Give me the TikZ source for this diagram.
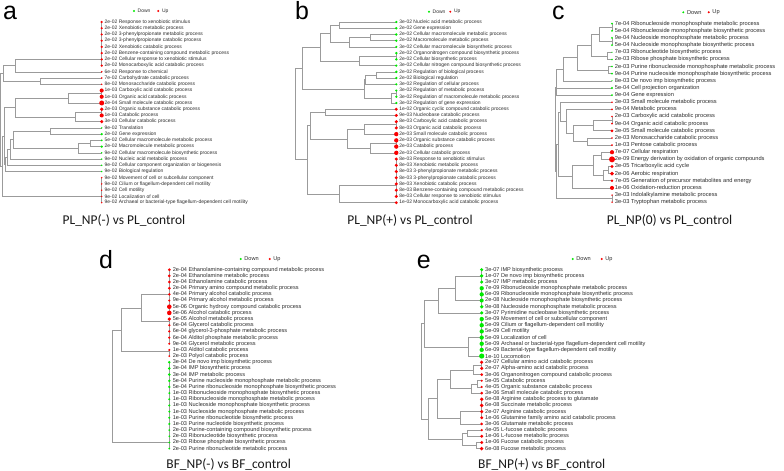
\documentclass[tikz,border=0pt]{standalone}
\usepackage{fontspec}
\setmainfont{Liberation Sans}
\newfontfamily\titlefont{Carlito}
\usetikzlibrary{calc}
\pgfdeclarelayer{bottom}
\pgfdeclarelayer{bg}
\pgfsetlayers{bottom,bg,main}
\definecolor{upred}{RGB}{250,0,0}
\definecolor{dngreen}{RGB}{0,235,0}
\definecolor{treegray}{RGB}{155,155,155}
\definecolor{lbltext}{RGB}{45,45,45}
\newcommand\panelset[7]{\def\pmx{#1}\def\pyo{#2}\def\pdy{#3}\def\ptx{#4}\def\pfs{#5}\def\pa{#6}\def\pb{#7}}
\newcommand\lblfont{\fontsize{\pfs}{\pfs}\selectfont}
\tikzset{
  lbl/.style={font=\lblfont, inner sep=0pt, anchor=west, text=lbltext},
  dot/.style={circle, inner sep=0pt, draw=none},
  treeln/.style={draw=treegray, line width=0.6bp},
  letterlbl/.style={font=\fontsize{25}{25}\selectfont, inner sep=0pt, anchor=base west},
  titlelbl/.style={font=\titlefont\fontsize{13.5}{13.5}\selectfont, inner sep=0pt, anchor=base, text=black!90},
}
% row: name, index, colour, mantissa, exponent, text
\newcommand\rw[6]{%
  \pgfmathsetmacro\rowy{\pyo+(#2-1)*\pdy}%
  \pgfmathsetmacro\dia{2*max(0.5,\pa+\pb*(#5-log10(#4)))}%
  \coordinate (#1) at (\pmx,\rowy);%
  \node[lbl] (#1t) at (\pmx+\ptx,\rowy) {#4e-\ifnum#5<10 0\fi#5 #6};%
  \node[dot, fill=#3, minimum size=\dia bp] (#1m) at (#1) {};%
}
% group of identical leaves: name, first, last, fraction
\newcommand\grp[4]{%
  \begin{pgfonlayer}{bg}\draw[treeln] (#2) -- (#3);\end{pgfonlayer}%
  \coordinate (#1) at ($(#2)!#4!(#3)$);%
}
% merge: name, child1, child2, x
\newcommand\mrg[4]{%
  \coordinate (#1X) at (#4,0);%
  \begin{pgfonlayer}{bg}\draw[treeln] (#2) -- (#2 -| #1X) -- (#3 -| #1X) -- (#3);\end{pgfonlayer}%
  \coordinate (#1) at ($(#2 -| #1X)!0.5!(#3 -| #1X)$);%
}
% legend: name, x of green dot, y, gap to red dot
\newcommand\lgd[4]{%
  \node[dot, fill=dngreen, minimum size=2.2bp] (#1g) at (#2,#3) {};%
  \node[lbl] (#1d) at (#2+3.5,#3) {Down};%
  \node[dot, fill=upred, minimum size=2.2bp] (#1r) at (#2+#4,#3) {};%
  \node[lbl] (#1u) at (#2+#4+3.5,#3) {Up};%
}
\begin{document}
\begin{tikzpicture}[x=1bp,y=-1bp]
\useasboundingbox (0,0) rectangle (784,471);
\begin{pgfonlayer}{bottom}
\fill[white] (0,0) rectangle (784,471);
\end{pgfonlayer}

%%%%%%%%%%%%%%%% panel a
\panelset{101.7}{22}{6.23}{2.8}{5}{0.13}{0.64}
\node[letterlbl] (La) at (3,20) {a};
\lgd{aL}{134}{11}{24.3}
\rw{a1}{1}{upred}{2}{2}{Response to xenobiotic stimulus}
\rw{a2}{2}{upred}{2}{2}{Xenobiotic metabolic process}
\rw{a3}{3}{upred}{2}{2}{3-phenylpropionate metabolic process}
\rw{a4}{4}{upred}{2}{2}{3-phenylpropionate catabolic process}
\rw{a5}{5}{upred}{2}{2}{Xenobiotic catabolic process}
\rw{a6}{6}{upred}{2}{2}{Benzene-containing compound metabolic process}
\rw{a7}{7}{upred}{2}{2}{Cellular response to xenobiotic stimulus}
\rw{a8}{8}{upred}{2}{2}{Monocarboxylic acid catabolic process}
\rw{a9}{9}{upred}{6}{2}{Response to chemical}
\rw{a10}{10}{upred}{7}{2}{Carbohydrate catabolic process}
\rw{a11}{11}{upred}{8}{2}{Monosaccharide catabolic process}
\rw{a12}{12}{upred}{1}{3}{Carboxylic acid catabolic process}
\rw{a13}{13}{upred}{1}{3}{Organic acid catabolic process}
\rw{a14}{14}{upred}{2}{4}{Small molecule catabolic process}
\rw{a15}{15}{upred}{2}{3}{Organic substance catabolic process}
\rw{a16}{16}{upred}{1}{3}{Catabolic process}
\rw{a17}{17}{upred}{3}{3}{Cellular catabolic process}
\rw{a18}{18}{dngreen}{9}{2}{Translation}
\rw{a19}{19}{dngreen}{2}{2}{Gene expression}
\rw{a20}{20}{dngreen}{5}{2}{Cellular macromolecule metabolic process}
\rw{a21}{21}{dngreen}{2}{2}{Macromolecule metabolic process}
\rw{a22}{22}{dngreen}{9}{2}{Cellular macromolecule biosynthetic process}
\rw{a23}{23}{dngreen}{9}{2}{Nucleic acid metabolic process}
\rw{a24}{24}{dngreen}{9}{2}{Cellular component organization or biogenesis}
\rw{a25}{25}{dngreen}{9}{2}{Biological regulation}
\rw{a26}{26}{upred}{9}{2}{Movement of cell or subcellular component}
\rw{a27}{27}{upred}{9}{2}{Cilium or flagellum-dependent cell motility}
\rw{a28}{28}{upred}{9}{2}{Cell motility}
\rw{a29}{29}{upred}{9}{2}{Localization of cell}
\rw{a30}{30}{upred}{9}{2}{Archaeal or bacterial-type flagellum-dependent cell motility}
\grp{aG1}{a1}{a8}{0.85}
\mrg{aA1}{aG1}{a9}{15}
\mrg{aA2}{a10}{a11}{40}
\mrg{aA3}{aA1}{aA2}{3.5}
\grp{aB0}{a12}{a13}{0.5}
\mrg{aB2}{aB0}{a14}{68}
\grp{aB3}{a15}{a16}{0.5}
\mrg{aB4}{aB3}{a17}{75}
\mrg{aB5}{aB2}{aB4}{15}
\mrg{aC1}{a18}{a19}{50}
\mrg{aC2}{a20}{a21}{90}
\mrg{aC3}{aC2}{a22}{78}
\mrg{aC4}{aC1}{aC3}{13}
\mrg{aC5}{aC4}{a23}{10}
\mrg{aC6}{aC5}{a24}{7}
\mrg{aC7}{aC6}{a25}{5}
\mrg{aY}{aB5}{aC7}{4}
\grp{aG3}{a26}{a30}{0.75}
\mrg{aX}{aY}{aG3}{2.5}
\mrg{aR}{aA3}{aX}{0.6}
\node[titlelbl] (Ta) at (124,224.5) {PL\_NP(-) vs PL\_control};

%%%%%%%%%%%%%%%% panel b
\panelset{396.3}{22}{6.23}{2.8}{5}{-0.05}{0.83}
\node[letterlbl] (Lb) at (295,20) {b};
\lgd{bL}{429}{11.7}{21.3}
\rw{b1}{1}{dngreen}{3}{2}{Nucleic acid metabolic process}
\rw{b2}{2}{dngreen}{2}{2}{Gene expression}
\rw{b3}{3}{dngreen}{2}{2}{Cellular macromolecule metabolic process}
\rw{b4}{4}{dngreen}{2}{2}{Macromolecule metabolic process}
\rw{b5}{5}{dngreen}{3}{2}{Cellular macromolecule biosynthetic process}
\rw{b6}{6}{dngreen}{2}{2}{Organonitrogen compound biosynthetic process}
\rw{b7}{7}{dngreen}{2}{2}{Cellular biosynthetic process}
\rw{b8}{8}{dngreen}{3}{2}{Cellular nitrogen compound biosynthetic process}
\rw{b9}{9}{dngreen}{2}{2}{Regulation of biological process}
\rw{b10}{10}{dngreen}{2}{2}{Biological regulation}
\rw{b11}{11}{dngreen}{3}{2}{Regulation of cellular process}
\rw{b12}{12}{dngreen}{3}{2}{Regulation of metabolic process}
\rw{b13}{13}{dngreen}{3}{2}{Regulation of macromolecule metabolic process}
\rw{b14}{14}{dngreen}{3}{2}{Regulation of gene expression}
\rw{b15}{15}{upred}{1}{2}{Organic cyclic compound catabolic process}
\rw{b16}{16}{upred}{9}{3}{Nucleobase catabolic process}
\rw{b17}{17}{upred}{8}{3}{Carboxylic acid catabolic process}
\rw{b18}{18}{upred}{8}{3}{Organic acid catabolic process}
\rw{b19}{19}{upred}{2}{3}{Small molecule catabolic process}
\rw{b20}{20}{upred}{2}{3}{Organic substance catabolic process}
\rw{b21}{21}{upred}{2}{3}{Catabolic process}
\rw{b22}{22}{upred}{2}{3}{Cellular catabolic process}
\rw{b23}{23}{upred}{8}{3}{Response to xenobiotic stimulus}
\rw{b24}{24}{upred}{8}{3}{Xenobiotic metabolic process}
\rw{b25}{25}{upred}{8}{3}{3-phenylpropionate metabolic process}
\rw{b26}{26}{upred}{8}{3}{3-phenylpropionate catabolic process}
\rw{b27}{27}{upred}{8}{3}{Xenobiotic catabolic process}
\rw{b28}{28}{upred}{8}{3}{Benzene-containing compound metabolic process}
\rw{b29}{29}{upred}{8}{3}{Cellular response to xenobiotic stimulus}
\rw{b30}{30}{upred}{1}{2}{Monocarboxylic acid catabolic process}
\mrg{bM1}{b1}{b2}{339}
\mrg{bM2}{b3}{b4}{370}
\mrg{bM3}{bM2}{b5}{349}
\mrg{bM4}{bM1}{bM3}{330}
\grp{bM5}{b6}{b7}{0.5}
\mrg{bM6}{bM5}{b8}{359}
\mrg{bM7}{bM4}{bM6}{320}
\mrg{bM8}{b9}{b10}{376}
\mrg{bM9}{bM8}{b11}{365}
\grp{bM10}{b12}{b13}{0.5}
\mrg{bM11}{bM10}{b14}{391}
\mrg{bM12}{bM9}{bM11}{364}
\mrg{bM13}{bM7}{bM12}{302}
\mrg{bR1}{b15}{b16}{325}
\grp{bR2}{b17}{b18}{0.5}
\mrg{bR3}{bR2}{b19}{364}
\grp{bR4}{b20}{b21}{0.5}
\mrg{bR5}{bR4}{b22}{370}
\mrg{bR6}{bR3}{bR5}{347}
\mrg{bR7}{bR1}{bR6}{310}
\grp{bR8a}{b23}{b29}{0.7}
\mrg{bR8}{bR8a}{b30}{339}
\mrg{bR9}{bR7}{bR8}{307}
\mrg{bRoot}{bM13}{bR9}{295}
\node[titlelbl] (Tb) at (410,224.5) {PL\_NP(+) vs PL\_control};

%%%%%%%%%%%%%%%% panel c
\panelset{612}{23.7}{7.14}{2.7}{5.7}{-0.09}{0.355}
\node[letterlbl] (Lc) at (552,20) {c};
\lgd{cL}{683.3}{12.3}{25.4}
\rw{c1}{1}{dngreen}{7}{4}{Ribonucleoside monophosphate metabolic process}
\rw{c2}{2}{dngreen}{5}{4}{Ribonucleoside monophosphate biosynthetic process}
\rw{c3}{3}{dngreen}{9}{4}{Nucleoside monophosphate metabolic process}
\rw{c4}{4}{dngreen}{5}{4}{Nucleoside monophosphate biosynthetic process}
\rw{c5}{5}{dngreen}{7}{3}{Ribonucleotide biosynthetic process}
\rw{c6}{6}{dngreen}{2}{3}{Ribose phosphate biosynthetic process}
\rw{c7}{7}{dngreen}{2}{3}{Purine ribonucleoside monophosphate metabolic process}
\rw{c8}{8}{dngreen}{9}{4}{Purine nucleoside monophosphate biosynthetic process}
\rw{c9}{9}{dngreen}{8}{3}{De novo imp biosynthetic process}
\rw{c10}{10}{dngreen}{5}{4}{Cell projection organization}
\rw{c11}{11}{dngreen}{9}{4}{Gene expression}
\rw{c12}{12}{upred}{3}{3}{Small molecule metabolic process}
\rw{c13}{13}{upred}{9}{4}{Metabolic process}
\rw{c14}{14}{upred}{2}{3}{Carboxylic acid catabolic process}
\rw{c15}{15}{upred}{9}{4}{Organic acid catabolic process}
\rw{c16}{16}{upred}{3}{5}{Small molecule catabolic process}
\rw{c17}{17}{upred}{2}{3}{Monosaccharide catabolic process}
\rw{c18}{18}{upred}{1}{3}{Pentose catabolic process}
\rw{c19}{19}{upred}{7}{7}{Cellular respiration}
\rw{c20}{20}{upred}{2}{9}{Energy derivation by oxidation of organic compounds}
\rw{c21}{21}{upred}{3}{5}{Tricarboxylic acid cycle}
\rw{c22}{22}{upred}{2}{6}{Aerobic respiration}
\rw{c23}{23}{upred}{7}{5}{Generation of precursor metabolites and energy}
\rw{c24}{24}{upred}{1}{6}{Oxidation-reduction process}
\rw{c25}{25}{upred}{3}{3}{Indolalkylamine metabolic process}
\rw{c26}{26}{upred}{3}{3}{Tryptophan metabolic process}
\grp{cA}{c1}{c2}{0.5}
\grp{cB}{c3}{c4}{0.5}
\mrg{cC}{cA}{cB}{599}
\mrg{cD}{c5}{c6}{607}
\mrg{cE}{cC}{cD}{591}
\mrg{cF}{c7}{c8}{608}
\mrg{cG}{cE}{cF}{577}
\mrg{cH}{cG}{c9}{563}
\mrg{cI}{cH}{c10}{556.5}
\mrg{cJ}{cI}{c11}{555.8}
\grp{cQ1}{c14}{c15}{0.5}
\mrg{cQ2}{cQ1}{c16}{593}
\mrg{cQ3}{c17}{c18}{587}
\mrg{cQ4}{cQ2}{cQ3}{573}
\mrg{cQ5}{c13}{cQ4}{566.7}
\mrg{cQ6}{c12}{cQ5}{560}
\mrg{cP1}{c19}{c20}{601.7}
\mrg{cP2}{c21}{c22}{608}
\mrg{cP3}{cP2}{c23}{603}
\mrg{cP4}{cP1}{cP3}{593.3}
\mrg{cP5}{cP4}{c24}{572}
\mrg{cQ7}{cQ6}{cP5}{558}
\grp{cS}{c25}{c26}{0.5}
\mrg{cQ8}{cQ7}{cS}{556.7}
\mrg{cRoot}{cJ}{cQ8}{555}
\node[titlelbl] (Tc) at (669.5,225) {PL\_NP(0) vs PL\_control};

%%%%%%%%%%%%%%%% panel d
\panelset{169.3}{269.7}{6.17}{3.3}{5.6}{-0.35}{0.5}
\node[letterlbl] (Ld) at (99,268.3) {d};
\lgd{dL}{240.7}{259}{29}
\rw{d1}{1}{upred}{2}{4}{Ethanolamine-containing compound metabolic process}
\rw{d2}{2}{upred}{2}{4}{Ethanolamine metabolic process}
\rw{d3}{3}{upred}{2}{4}{Ethanolamine catabolic process}
\rw{d4}{4}{upred}{2}{4}{Primary amino compound metabolic process}
\rw{d5}{5}{upred}{4}{4}{Primary alcohol catabolic process}
\rw{d6}{6}{upred}{9}{4}{Primary alcohol metabolic process}
\rw{d7}{7}{upred}{5}{6}{Organic hydroxy compound catabolic process}
\rw{d8}{8}{upred}{5}{6}{Alcohol catabolic process}
\rw{d9}{9}{upred}{5}{5}{Alcohol metabolic process}
\rw{d10}{10}{upred}{6}{4}{Glycerol catabolic process}
\rw{d11}{11}{upred}{6}{4}{glycerol-3-phosphate metabolic process}
\rw{d12}{12}{upred}{6}{4}{Alditol phosphate metabolic process}
\rw{d13}{13}{upred}{9}{4}{Glycerol metabolic process}
\rw{d14}{14}{upred}{1}{3}{Alditol catabolic process}
\rw{d15}{15}{upred}{2}{3}{Polyol catabolic process}
\rw{d16}{16}{dngreen}{3}{4}{De novo imp biosynthetic process}
\rw{d17}{17}{dngreen}{3}{4}{IMP biosynthetic process}
\rw{d18}{18}{dngreen}{3}{4}{IMP metabolic process}
\rw{d19}{19}{dngreen}{5}{4}{Purine nucleoside monophosphate metabolic process}
\rw{d20}{20}{dngreen}{5}{4}{Purine ribonucleoside monophosphate biosynthetic process}
\rw{d21}{21}{dngreen}{1}{3}{Ribonucleoside monophosphate biosynthetic process}
\rw{d22}{22}{dngreen}{1}{3}{Ribonucleoside monophosphate metabolic process}
\rw{d23}{23}{dngreen}{1}{3}{Nucleoside monophosphate biosynthetic process}
\rw{d24}{24}{dngreen}{1}{3}{Nucleoside monophosphate metabolic process}
\rw{d25}{25}{dngreen}{1}{3}{Purine ribonucleotide biosynthetic process}
\rw{d26}{26}{dngreen}{1}{3}{Purine nucleotide biosynthetic process}
\rw{d27}{27}{dngreen}{2}{3}{Purine-containing compound biosynthetic process}
\rw{d28}{28}{dngreen}{2}{3}{Ribonucleotide biosynthetic process}
\rw{d29}{29}{dngreen}{2}{3}{Ribose phosphate biosynthetic process}
\rw{d30}{30}{dngreen}{2}{3}{Purine ribonucleotide metabolic process}
\grp{dD1}{d1}{d8}{0.57}
\grp{dD2}{d9}{d13}{0.1}
\mrg{dD3}{dD1}{dD2}{141.7}
\grp{dD4}{d14}{d15}{0.3}
\mrg{dD5}{dD3}{dD4}{121.7}
\grp{dG}{d16}{d30}{0.93}
\mrg{dRoot}{dD5}{dG}{112.3}
\node[titlelbl] (Td) at (228.7,468) {BF\_NP(-) vs BF\_control};

%%%%%%%%%%%%%%%% panel e
\panelset{481.7}{269.7}{6.17}{3.3}{5.6}{0.1}{0.25}
\node[letterlbl] (Le) at (416.7,268.3) {e};
\lgd{eL}{572.7}{259}{29}
\rw{e1}{1}{dngreen}{3}{7}{IMP biosynthetic process}
\rw{e2}{2}{dngreen}{1}{7}{De novo imp biosynthetic process}
\rw{e3}{3}{dngreen}{3}{7}{IMP metabolic process}
\rw{e4}{4}{dngreen}{7}{9}{Ribonucleoside monophosphate metabolic process}
\rw{e5}{5}{dngreen}{6}{9}{Ribonucleoside monophosphate biosynthetic process}
\rw{e6}{6}{dngreen}{2}{8}{Nucleoside monophosphate biosynthetic process}
\rw{e7}{7}{dngreen}{9}{8}{Nucleoside monophosphate metabolic process}
\rw{e8}{8}{dngreen}{3}{7}{Pyrimidine nucleobase biosynthetic process}
\rw{e9}{9}{dngreen}{5}{9}{Movement of cell or subcellular component}
\rw{e10}{10}{dngreen}{5}{9}{Cilium or flagellum-dependent cell motility}
\rw{e11}{11}{dngreen}{5}{9}{Cell motility}
\rw{e12}{12}{dngreen}{5}{9}{Localization of cell}
\rw{e13}{13}{dngreen}{5}{9}{Archaeal or bacterial-type flagellum-dependent cell motility}
\rw{e14}{14}{dngreen}{6}{9}{Bacterial-type flagellum-dependent cell motility}
\rw{e15}{15}{dngreen}{1}{10}{Locomotion}
\rw{e16}{16}{upred}{2}{7}{Cellular amino acid catabolic process}
\rw{e17}{17}{upred}{2}{7}{Alpha-amino acid catabolic process}
\rw{e18}{18}{upred}{3}{6}{Organonitrogen compound catabolic process}
\rw{e19}{19}{upred}{5}{5}{Catabolic process}
\rw{e20}{20}{upred}{4}{5}{Organic substance catabolic process}
\rw{e21}{21}{upred}{3}{6}{Small molecule catabolic process}
\rw{e22}{22}{upred}{6}{8}{Arginine catabolic process to glutamate}
\rw{e23}{23}{upred}{6}{8}{Succinate metabolic process}
\rw{e24}{24}{upred}{2}{7}{Arginine catabolic process}
\rw{e25}{25}{upred}{1}{6}{Glutamine family amino acid catabolic process}
\rw{e26}{26}{upred}{3}{6}{Glutamate metabolic process}
\rw{e27}{27}{upred}{4}{5}{L-fucose catabolic process}
\rw{e28}{28}{upred}{1}{6}{L-fucose metabolic process}
\rw{e29}{29}{upred}{1}{6}{Fucose catabolic process}
\rw{e30}{30}{upred}{6}{8}{Fucose metabolic process}
\grp{eE1}{e1}{e3}{0.5}
\grp{eE2}{e4}{e7}{0.67}
\mrg{eE3}{eE1}{eE2}{455.7}
\mrg{eE4}{eE3}{e8}{438.3}
\grp{eE5}{e9}{e14}{0.6}
\mrg{eE6}{eE5}{e15}{468}
\mrg{eE7}{eE4}{eE6}{424}
\grp{eRa}{e16}{e17}{0.5}
\mrg{eRb}{eRa}{e18}{473}
\mrg{eRc}{e19}{e20}{477}
\mrg{eRd}{eRc}{e21}{471.7}
\mrg{eRe}{eRb}{eRd}{450}
\grp{eRf}{e22}{e25}{0.67}
\mrg{eRg}{eRf}{e26}{460}
\mrg{eRh}{eRe}{eRg}{437.7}
\mrg{eRi}{e27}{e28}{467.7}
\mrg{eRj}{e29}{e30}{476}
\mrg{eRk}{eRi}{eRj}{462}
\mrg{eRl}{eRh}{eRk}{428}
\mrg{eRoot}{eE7}{eRl}{421}
\node[titlelbl] (Te) at (541.7,468) {BF\_NP(+) vs BF\_control};
\end{tikzpicture}
\end{document}
